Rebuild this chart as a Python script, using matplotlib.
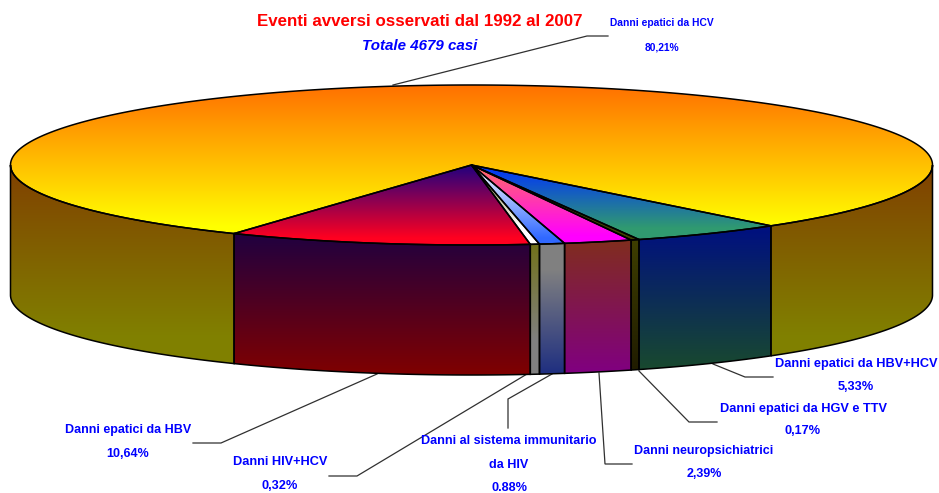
"""torta 3D degli eventi avversi 1992-2007"""
import numpy as np
import matplotlib
matplotlib.use('Agg')
import matplotlib.pyplot as plt
from matplotlib.patches import Polygon

# dati
categories = ['Danni epatici da HBV', 'Danni HIV+HCV', 'Danni al sistema immunitario\nda HIV',
              'Danni neuropsichiatrici', 'Danni epatici da HGV e TTV',
              'Danni epatici da HBV+HCV', 'Danni epatici da HCV']
values = [10.64, 0.32, 0.88, 2.39, 0.17, 5.33, 80.21]
pct_labels = ['10,64%', '0,32%', '0.88%', '2,39%', '0,17%', '5,33%', '80,21%']

# colori sfumati (alto, basso) per faccia superiore e laterale
top_colors = [('#200080', '#ff0020'), ('#808020', '#ffffff'), ('#ffffff', '#3068ff'),
              ('#ff7060', '#ff00ff'), ('#404000', '#404000'), ('#0030ff', '#309a70'),
              ('#ff7000', '#ffff00')]
side_colors = [('#200040', '#800000'), ('#707010', '#808080'), ('#808080', '#203080'),
               ('#803018', '#800080'), ('#404000', '#201c00'), ('#001080', '#184830'),
               ('#804000', '#808000')]

# geometria della torta, in pixel
CX, CY = 471.5, 165
RX, RY = 461, 80
DEPTH = 130
START = -121
MIN_SWEEP = 1.05  # la fetta piu sottile nel grafico e piu larga del suo valore

plt.rcParams['font.family'] = ['Liberation Sans']


def rim(a1, a2):
    ''' punti del bordo ellittico tra due angoli '''
    t = np.radians(np.linspace(a1, a2, max(int(abs(a2 - a1) * 2), 2)))
    return np.column_stack([CX + RX * np.cos(t), CY - RY * np.sin(t)])


def fill(ax, verts, colors, y0, y1):
    ''' poligono con sfumatura verticale tra y0 e y1 '''
    c0 = np.array(matplotlib.colors.to_rgb(colors[0]))
    c1 = np.array(matplotlib.colors.to_rgb(colors[1]))
    # oltre y0 e y1 resta il colore finale
    rows = np.clip((np.arange(493) + 0.5 - y0) / (y1 - y0), 0, 1)[:, None, None]
    grad = c0[None, None, :] * (1 - rows) + c1[None, None, :] * rows
    im = ax.imshow(grad, extent=(0, 939, 493, 0), aspect='auto', zorder=2)
    patch = Polygon(verts, closed=True, facecolor='none', edgecolor='none', transform=ax.transData)
    ax.add_patch(patch)
    im.set_clip_path(patch)
    ax.add_patch(Polygon(verts, closed=True, facecolor='none', edgecolor='black', lw=1.1, zorder=3))


def wall(ax, a1, a2, colors, y0, y1):
    ''' parete laterale, solo la parte davanti '''
    a1, a2 = max(a1, -180), min(a2, 0)
    if a2 <= a1:
        return
    top = rim(a1, a2)
    bottom = top[::-1] + [0, DEPTH]
    fill(ax, np.vstack([top, bottom]), colors, y0, y1)


fig = plt.figure(figsize=(9.39, 4.93), dpi=100)
ax = fig.add_axes([0, 0, 1, 1])
ax.axis('off')

sweeps = np.array(values) / np.sum(values) * 360
sweeps[4] = max(sweeps[4], MIN_SWEEP)
sweeps[6] = 360 - sweeps[:6].sum()
edges = START + np.concatenate([[0], np.cumsum(sweeps)])

# pareti
side_range = [(234, 375), (234, 340), (270, 372), (232, 372), (230, 370), (228, 366), (165, 335)]
for i in range(7):
    y0, y1 = side_range[i]
    wall(ax, edges[i], edges[i + 1], side_colors[i], y0, y1)
    wall(ax, edges[i] - 360, edges[i + 1] - 360, side_colors[i], y0, y1)

# facce superiori
top_range = [(165, 238), (165, 225), (165, 238), (165, 236), (165, 232), (165, 228), (85, 226)]
for i in range(7):
    verts = np.vstack([[[CX, CY]], rim(edges[i], edges[i + 1])])
    fill(ax, verts, top_colors[i], *top_range[i])

# linee di richiamo
leaders = [[(377, 374), (221, 443), (193, 443)],
           [(527, 374), (357, 476), (329, 476)],
           [(552, 374), (508, 399), (508, 428)],
           [(599, 373), (605, 464), (632, 464)],
           [(639, 371), (689, 422), (717, 422)],
           [(713, 364), (745, 377), (773, 377)],
           [(393, 85), (587, 36), (608, 36)]]
for pts in leaders:
    xs, ys = zip(*pts)
    ax.plot(xs, ys, color='#303030', lw=0.9, zorder=1.5, solid_joinstyle='miter')

# etichette: centro x, y della prima riga, y della percentuale
label_pos = [(128, 430, 454), (280, 462, 486), (509, 441, 488), (704, 451, 474),
             (803, 409, 431), (856, 364, 387), (662, 23, 48)]
label_size = [9, 9.2, 9.1, 9, 9.2, 9.2, 7.4]
for i in range(7):
    x, y, yp = label_pos[i]
    lines = categories[i].split('\n')
    ax.text(x, y, lines[0], color='#0000ff', fontweight='bold', fontsize=label_size[i],
            ha='center', va='center', zorder=5)
    if len(lines) > 1:
        ax.text(x, (y + yp) / 2 + 1, lines[1], color='#0000ff', fontweight='bold',
                fontsize=label_size[i], ha='center', va='center', zorder=5)
    ax.text(x, yp, pct_labels[i], color='#0000ff', fontweight='bold', fontsize=label_size[i],
            ha='center', va='center', zorder=5)

# titolo
ax.text(420, 21, 'Eventi avversi osservati dal 1992 al 2007', color='#ff0000', fontweight='bold',
        fontsize=12.2, ha='center', va='center')
ax.text(420, 46.5, 'Totale 4679 casi', color='#0000ff', fontweight='bold', style='italic',
        fontsize=10.9, ha='center', va='center')

ax.set_xlim(0, 939)
ax.set_ylim(493, 0)
fig.savefig('out.png', dpi=100)
